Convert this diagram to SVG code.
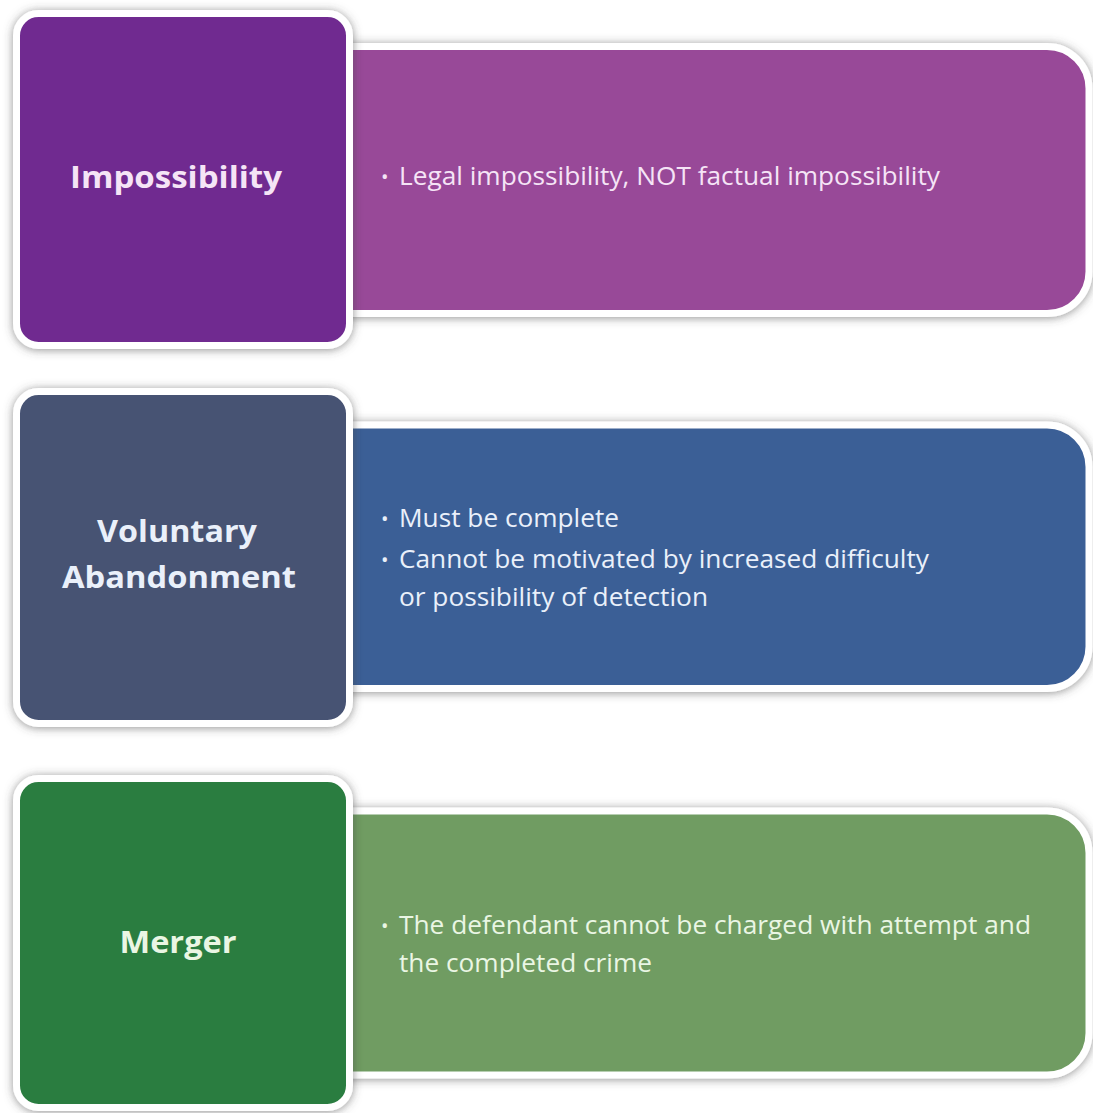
<svg xmlns="http://www.w3.org/2000/svg" width="1093" height="1113" viewBox="0 0 1093 1113">
<defs>
<filter id="sh" x="-10%" y="-10%" width="120%" height="120%">
<feDropShadow dx="0" dy="1" stdDeviation="5" flood-color="#4a4a4a" flood-opacity="0.6"/>
</filter>
<style>
.box{stroke:#ffffff;stroke-width:7;filter:url(#sh)}
.title{font-family:"Open Sans","Liberation Sans",sans-serif;font-weight:bold;font-size:30px;text-anchor:middle}
.txt{font-family:"Open Sans","Liberation Sans",sans-serif;font-size:25px}
.dot{font-family:"Open Sans","Liberation Sans",sans-serif;font-size:20px}
.p{fill:#f5e4f6}
.b{fill:#eaf0fa}
.g{fill:#eaf6e4}
</style>
</defs>
<rect width="1093" height="1113" fill="#ffffff"/>
<g id="row1-detail">
<path class="box" fill="#984a98" d="M330,46.5 H1047 A42,42 0 0 1 1089,88.5 V271.5 A42,42 0 0 1 1047,313.5 H330 Z"/>
<text class="dot p" x="381" y="184">•</text>
<text class="txt p" x="399" y="185" textLength="541" lengthAdjust="spacingAndGlyphs">Legal impossibility, NOT factual impossibility</text>
</g>
<g id="row1-title">
<rect class="box" fill="#6f2c90" x="16.5" y="13.5" width="333" height="332" rx="22"/>
<text class="title p" x="176" y="188" textLength="212" lengthAdjust="spacingAndGlyphs">Impossibility</text>
</g>
<g id="row2-detail">
<path class="box" fill="#3b5e96" d="M330,425 H1047 A42,42 0 0 1 1089,467 V646.5 A42,42 0 0 1 1047,688.5 H330 Z"/>
<text class="dot b" x="381" y="526">•</text>
<text class="txt b" x="399" y="527" textLength="220" lengthAdjust="spacingAndGlyphs">Must be complete</text>
<text class="dot b" x="381" y="567">•</text>
<text class="txt b" x="399" y="568" textLength="530" lengthAdjust="spacingAndGlyphs">Cannot be motivated by increased difficulty</text>
<text class="txt b" x="399" y="606" textLength="309" lengthAdjust="spacingAndGlyphs">or possibility of detection</text>
</g>
<g id="row2-title">
<rect class="box" fill="#465273" x="16.5" y="391.5" width="333" height="332" rx="22"/>
<text class="title b" x="177" y="542" textLength="160" lengthAdjust="spacingAndGlyphs">Voluntary</text>
<text class="title b" x="179" y="588" textLength="234" lengthAdjust="spacingAndGlyphs">Abandonment</text>
</g>
<g id="row3-detail">
<path class="box" fill="#6f9c62" d="M330,811 H1047 A42,42 0 0 1 1089,853 V1033 A42,42 0 0 1 1047,1075 H330 Z"/>
<text class="dot g" x="381" y="933">•</text>
<text class="txt g" x="399" y="934" textLength="632" lengthAdjust="spacingAndGlyphs">The defendant cannot be charged with attempt and</text>
<text class="txt g" x="399" y="972" textLength="253" lengthAdjust="spacingAndGlyphs">the completed crime</text>
</g>
<g id="row3-title">
<rect class="box" fill="#2a7d40" x="16.5" y="778.5" width="333" height="329" rx="22"/>
<text class="title g" x="178" y="953" textLength="117" lengthAdjust="spacingAndGlyphs">Merger</text>
</g>
</svg>
